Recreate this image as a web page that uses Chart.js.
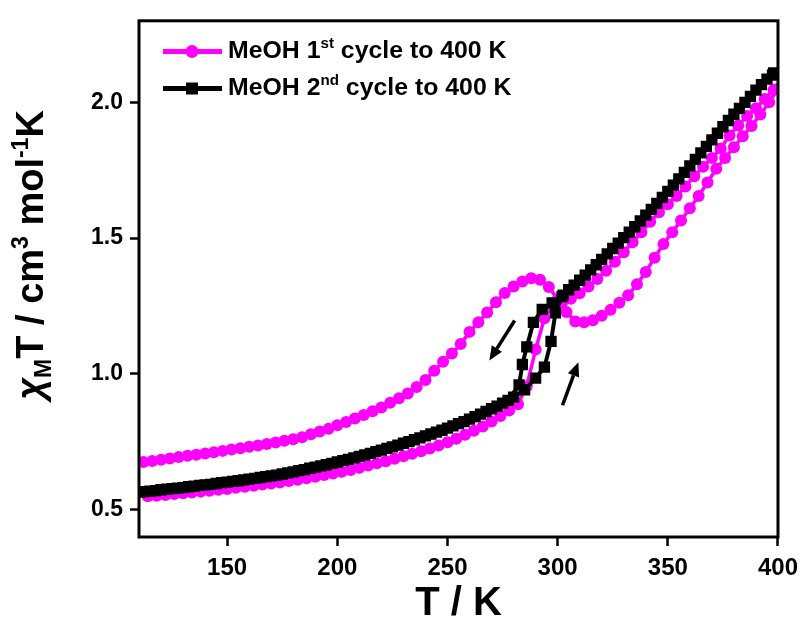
<!DOCTYPE html>
<html>
<head>
<meta charset="utf-8">
<script src="https://cdn.jsdelivr.net/npm/chart.js@4/dist/chart.umd.min.js"></script>
<style>
  html, body { margin: 0; padding: 0; background: #fff; }
  #chart { display: block; }
</style>
</head>
<body>
<canvas id="chart" width="806" height="632"></canvas>
<script>
// axis ticks
const xTicks = [150, 200, 250, 300, 350, 400];
const yTicks = [0.5, 1.0, 1.5, 2.0];

// MeOH 1st cycle, heating branch
const pinkHeatT = [114, 118, 122, 126, 130, 134, 138, 142, 146, 150, 154, 158, 162, 166, 170, 174, 178, 182,
    186, 190, 194, 198, 202, 206, 210, 214, 218, 222, 226, 230, 234, 238, 242, 246, 250, 254, 258, 262, 266,
    270, 274, 278, 282, 286, 290, 294, 298, 302, 306, 310, 314, 318, 322, 326, 330, 334, 338, 342, 346, 350,
    354, 358, 362, 366, 370, 374, 378, 382, 386, 390, 394, 398];
const pinkHeatY = [0.550, 0.552, 0.555, 0.558, 0.561, 0.564, 0.567, 0.570, 0.574, 0.577, 0.581, 0.585, 0.589,
    0.593, 0.597, 0.601, 0.606, 0.611, 0.616, 0.622, 0.628, 0.634, 0.640, 0.647, 0.655, 0.663, 0.671, 0.679,
    0.688, 0.697, 0.706, 0.716, 0.726, 0.737, 0.749, 0.762, 0.776, 0.791, 0.807, 0.825, 0.845, 0.866, 0.889,
    0.955, 1.090, 1.205, 1.250, 1.262, 1.277, 1.297, 1.322, 1.350, 1.380, 1.413, 1.448, 1.485, 1.522, 1.560,
    1.595, 1.625, 1.655, 1.690, 1.728, 1.763, 1.795, 1.830, 1.878, 1.915, 1.950, 1.978, 2.012, 2.045];

// MeOH 1st cycle, cooling branch
const pinkCoolT = [400, 396, 392, 388, 384, 380, 376, 372, 368, 364, 360, 356, 352, 348, 344, 340, 336, 332,
    328, 324, 320, 316, 312, 308, 304, 300, 296, 292, 288, 284, 280, 276, 272, 268, 264, 260, 256, 252, 248,
    244, 240, 236, 232, 228, 224, 220, 216, 212, 208, 204, 200, 196, 192, 188, 184, 180, 176, 172, 168, 164,
    160, 156, 152, 148, 144, 140, 136, 132, 128, 124, 120, 116, 112];
const pinkCoolY = [2.050, 2.000, 1.955, 1.913, 1.875, 1.835, 1.795, 1.755, 1.705, 1.655, 1.610, 1.565, 1.522,
    1.478, 1.428, 1.375, 1.330, 1.290, 1.262, 1.236, 1.214, 1.198, 1.190, 1.193, 1.228, 1.275, 1.320, 1.347,
    1.352, 1.340, 1.322, 1.298, 1.264, 1.226, 1.190, 1.155, 1.110, 1.075, 1.045, 1.012, 0.978, 0.952, 0.928,
    0.911, 0.894, 0.877, 0.863, 0.849, 0.836, 0.823, 0.811, 0.798, 0.788, 0.778, 0.767, 0.760, 0.754, 0.748,
    0.742, 0.737, 0.732, 0.727, 0.722, 0.717, 0.712, 0.707, 0.703, 0.699, 0.694, 0.689, 0.684, 0.680, 0.676];

// MeOH 2nd cycle, heating branch
const blackHeatT = [110, 115, 120, 125, 130, 135, 140, 145, 150, 155, 160, 165, 170, 175, 180, 185, 190, 195,
    200, 205, 210, 215, 220, 225, 230, 235, 240, 245, 250, 255, 260, 265, 270, 275, 280, 285, 290, 294, 297,
    299, 302, 305, 310, 315, 320, 325, 330, 335, 340, 345, 350, 355, 360, 365, 370, 375, 380, 385, 390, 395, 398];
const blackHeatY = [0.565, 0.569, 0.574, 0.578, 0.582, 0.587, 0.592, 0.597, 0.602, 0.607, 0.613, 0.619, 0.625,
    0.632, 0.640, 0.648, 0.657, 0.666, 0.676, 0.686, 0.697, 0.708, 0.720, 0.732, 0.745, 0.758, 0.772, 0.786,
    0.801, 0.817, 0.834, 0.852, 0.872, 0.893, 0.915, 0.942, 0.985, 1.025, 1.120, 1.225, 1.285, 1.310, 1.345,
    1.383, 1.422, 1.462, 1.502, 1.542, 1.585, 1.628, 1.672, 1.718, 1.766, 1.814, 1.862, 1.910, 1.956, 2.000,
    2.045, 2.085, 2.108];

// MeOH 2nd cycle, cooling branch
const blackCoolT = [397.5, 392.5, 387.5, 382.5, 377.5, 372.5, 367.5, 362.5, 357.5, 352.5, 347.5, 342.5, 337.5,
    332.5, 327.5, 322.5, 317.5, 312.5, 307.5, 302.5, 297.5, 293, 289, 286, 284, 282.5, 277.5, 272.5, 267.5,
    262.5, 257.5, 252.5, 247.5, 242.5, 237.5, 232.5, 227.5, 222.5, 217.5, 212.5, 207.5, 202.5, 197.5, 192.5,
    187.5, 182.5, 177.5, 172.5, 167.5, 162.5, 157.5, 152.5, 147.5, 142.5, 137.5, 132.5, 127.5, 122.5, 117.5, 112.5];
const blackCoolY = [2.100, 2.065, 2.022, 1.978, 1.933, 1.886, 1.838, 1.790, 1.742, 1.695, 1.650, 1.606, 1.563,
    1.522, 1.482, 1.442, 1.402, 1.364, 1.327, 1.290, 1.262, 1.238, 1.190, 1.100, 1.035, 0.960, 0.903, 0.882,
    0.862, 0.843, 0.825, 0.809, 0.793, 0.779, 0.765, 0.751, 0.738, 0.726, 0.714, 0.702, 0.691, 0.681, 0.671,
    0.662, 0.653, 0.644, 0.636, 0.628, 0.622, 0.616, 0.610, 0.605, 0.600, 0.594, 0.590, 0.585, 0.580, 0.576,
    0.571, 0.567];

// direction arrows [T, chiT] -> [T, chiT]
const arrowFrom = [[280.5, 1.197], [302.2, 0.885]];
const arrowTo = [[269.0, 1.050], [309.4, 1.043]];

const FONT = '"Liberation Sans", Arial, Helvetica, sans-serif';
const PINK = '#ff00ff';

function toPoints(ts, ys) {
    return ts.map((t, i) => ({ x: t, y: ys[i] }));
}

// draws text pieces one after another (sub/superscripts), returns total width
function richText(ctx, x, y, parts, measureOnly) {
    let cx = x;
    parts.forEach(p => {
        ctx.font = `${p.style || ''} bold ${p.size}px ${FONT}`;
        if (!measureOnly) ctx.fillText(p.text, cx, y + (p.dy || 0));
        cx += ctx.measureText(p.text).width;
    });
    return cx - x;
}

function drawArrow(ctx, x0, y0, x1, y1) {
    const ang = Math.atan2(y1 - y0, x1 - x0);
    const headLen = 14, headW = 6;
    const bx = x1 - headLen * Math.cos(ang), by = y1 - headLen * Math.sin(ang);
    ctx.beginPath();
    ctx.moveTo(x0, y0);
    ctx.lineTo(bx, by);
    ctx.lineWidth = 3.5;
    ctx.stroke();
    ctx.beginPath();
    ctx.moveTo(x1, y1);
    ctx.lineTo(bx + headW * Math.sin(ang), by - headW * Math.cos(ang));
    ctx.lineTo(bx - headW * Math.sin(ang), by + headW * Math.cos(ang));
    ctx.closePath();
    ctx.fill();
}

const decorPlugin = {
    id: 'decor',
    afterDraw(chart) {
        const ctx = chart.ctx;
        const a = chart.chartArea;
        const xs = chart.scales.x, ys = chart.scales.y;
        ctx.save();
        ctx.strokeStyle = '#000';
        ctx.fillStyle = '#000';

        // plot frame
        ctx.lineWidth = 3;
        ctx.strokeRect(a.left, a.top, a.right - a.left, a.bottom - a.top);

        // arrows
        arrowFrom.forEach((p, i) => {
            const q = arrowTo[i];
            drawArrow(ctx, xs.getPixelForValue(p[0]), ys.getPixelForValue(p[1]),
                xs.getPixelForValue(q[0]), ys.getPixelForValue(q[1]));
        });

        // legend
        const rows = [
            { y: 51.5, color: PINK, marker: 'circle', sup: 'st', lead: 'MeOH 1' },
            { y: 88.5, color: '#000', marker: 'rect', sup: 'nd', lead: 'MeOH 2' }
        ];
        rows.forEach(r => {
            ctx.strokeStyle = r.color;
            ctx.fillStyle = r.color;
            ctx.lineWidth = 5;
            ctx.beginPath();
            ctx.moveTo(163, r.y);
            ctx.lineTo(222, r.y);
            ctx.stroke();
            if (r.marker === 'circle') {
                ctx.beginPath();
                ctx.arc(192, r.y, 6.5, 0, Math.PI * 2);
                ctx.fill();
            } else {
                ctx.fillRect(186, r.y - 6, 12, 12);
            }
            ctx.fillStyle = '#000';
            ctx.save();
            ctx.translate(228, r.y + 6.5);
            ctx.scale(1.08, 1);
            ctx.textBaseline = 'alphabetic';
            richText(ctx, 0, 0, [
                { text: r.lead, size: 23 },
                { text: r.sup, size: 14, dy: -10 },
                { text: ' cycle to 400 K', size: 23 }
            ]);
            ctx.restore();
        });

        // y axis title
        const titleParts = [
            { text: 'χ', size: 38, style: 'italic' },
            { text: 'M', size: 23, dy: 8 },
            { text: 'T / cm', size: 38 },
            { text: '3', size: 23, dy: -15 },
            { text: ' mol', size: 38 },
            { text: '-1', size: 23, dy: -15 },
            { text: 'K', size: 38 }
        ];
        const w = richText(ctx, 0, 0, titleParts, true);
        ctx.save();
        ctx.translate(43, 255 + w / 2);
        ctx.rotate(-Math.PI / 2);
        ctx.textBaseline = 'alphabetic';
        richText(ctx, 0, 0, titleParts);
        ctx.restore();

        ctx.restore();
    }
};

const pinkData = toPoints(pinkHeatT, pinkHeatY).concat(toPoints(pinkCoolT, pinkCoolY));
const blackData = toPoints(blackHeatT, blackHeatY).concat(toPoints(blackCoolT, blackCoolY));

const tickFontX = { family: FONT, size: 24, weight: 'bold' };
const tickFontY = { family: FONT, size: 23, weight: 'bold' };
const axisGrid = {
    display: true,
    drawOnChartArea: false,
    drawTicks: true,
    tickLength: 9,
    tickWidth: 2.5,
    tickColor: '#000'
};

new Chart(document.getElementById('chart').getContext('2d'), {
    type: 'scatter',
    data: {
        datasets: [
            {
                label: 'MeOH 1st cycle to 400 K',
                data: pinkData,
                showLine: true,
                borderColor: PINK,
                borderWidth: 3.5,
                pointStyle: 'circle',
                pointRadius: 6,
                pointBorderWidth: 0,
                pointBackgroundColor: PINK,
                order: 1
            },
            {
                label: 'MeOH 2nd cycle to 400 K',
                data: blackData,
                showLine: true,
                borderColor: '#000',
                borderWidth: 4,
                pointStyle: 'rect',
                pointRadius: 8,
                pointBorderWidth: 0,
                pointBackgroundColor: '#000',
                order: 0
            }
        ]
    },
    options: {
        responsive: false,
        animation: false,
        devicePixelRatio: 1,
        layout: { padding: { left: 0, right: 24, top: 14, bottom: 4 } },
        plugins: {
            legend: { display: false },
            tooltip: { enabled: false }
        },
        scales: {
            x: {
                type: 'linear',
                min: 110,
                max: 400,
                afterBuildTicks: s => { s.ticks = xTicks.map(v => ({ value: v })); },
                afterFit: s => { s.height = 91; },
                grid: axisGrid,
                border: { display: false },
                ticks: {
                    font: tickFontX,
                    color: '#000',
                    padding: 8,
                    maxRotation: 0,
                    autoSkip: false,
                    callback: v => String(v)
                },
                title: {
                    display: true,
                    text: 'T / K',
                    color: '#000',
                    font: { family: FONT, size: 40, weight: 'bold', lineHeight: 1.2 },
                    padding: { top: 0, bottom: 0 }
                }
            },
            y: {
                type: 'linear',
                min: 0.4,
                max: 2.3,
                afterBuildTicks: s => { s.ticks = yTicks.map(v => ({ value: v })); },
                afterFit: s => { s.width = 139; },
                grid: axisGrid,
                border: { display: false },
                ticks: {
                    font: tickFontY,
                    color: '#000',
                    padding: 7,
                    autoSkip: false,
                    callback: v => v.toFixed(1)
                }
            }
        }
    },
    plugins: [decorPlugin]
});
</script>
</body>
</html>
